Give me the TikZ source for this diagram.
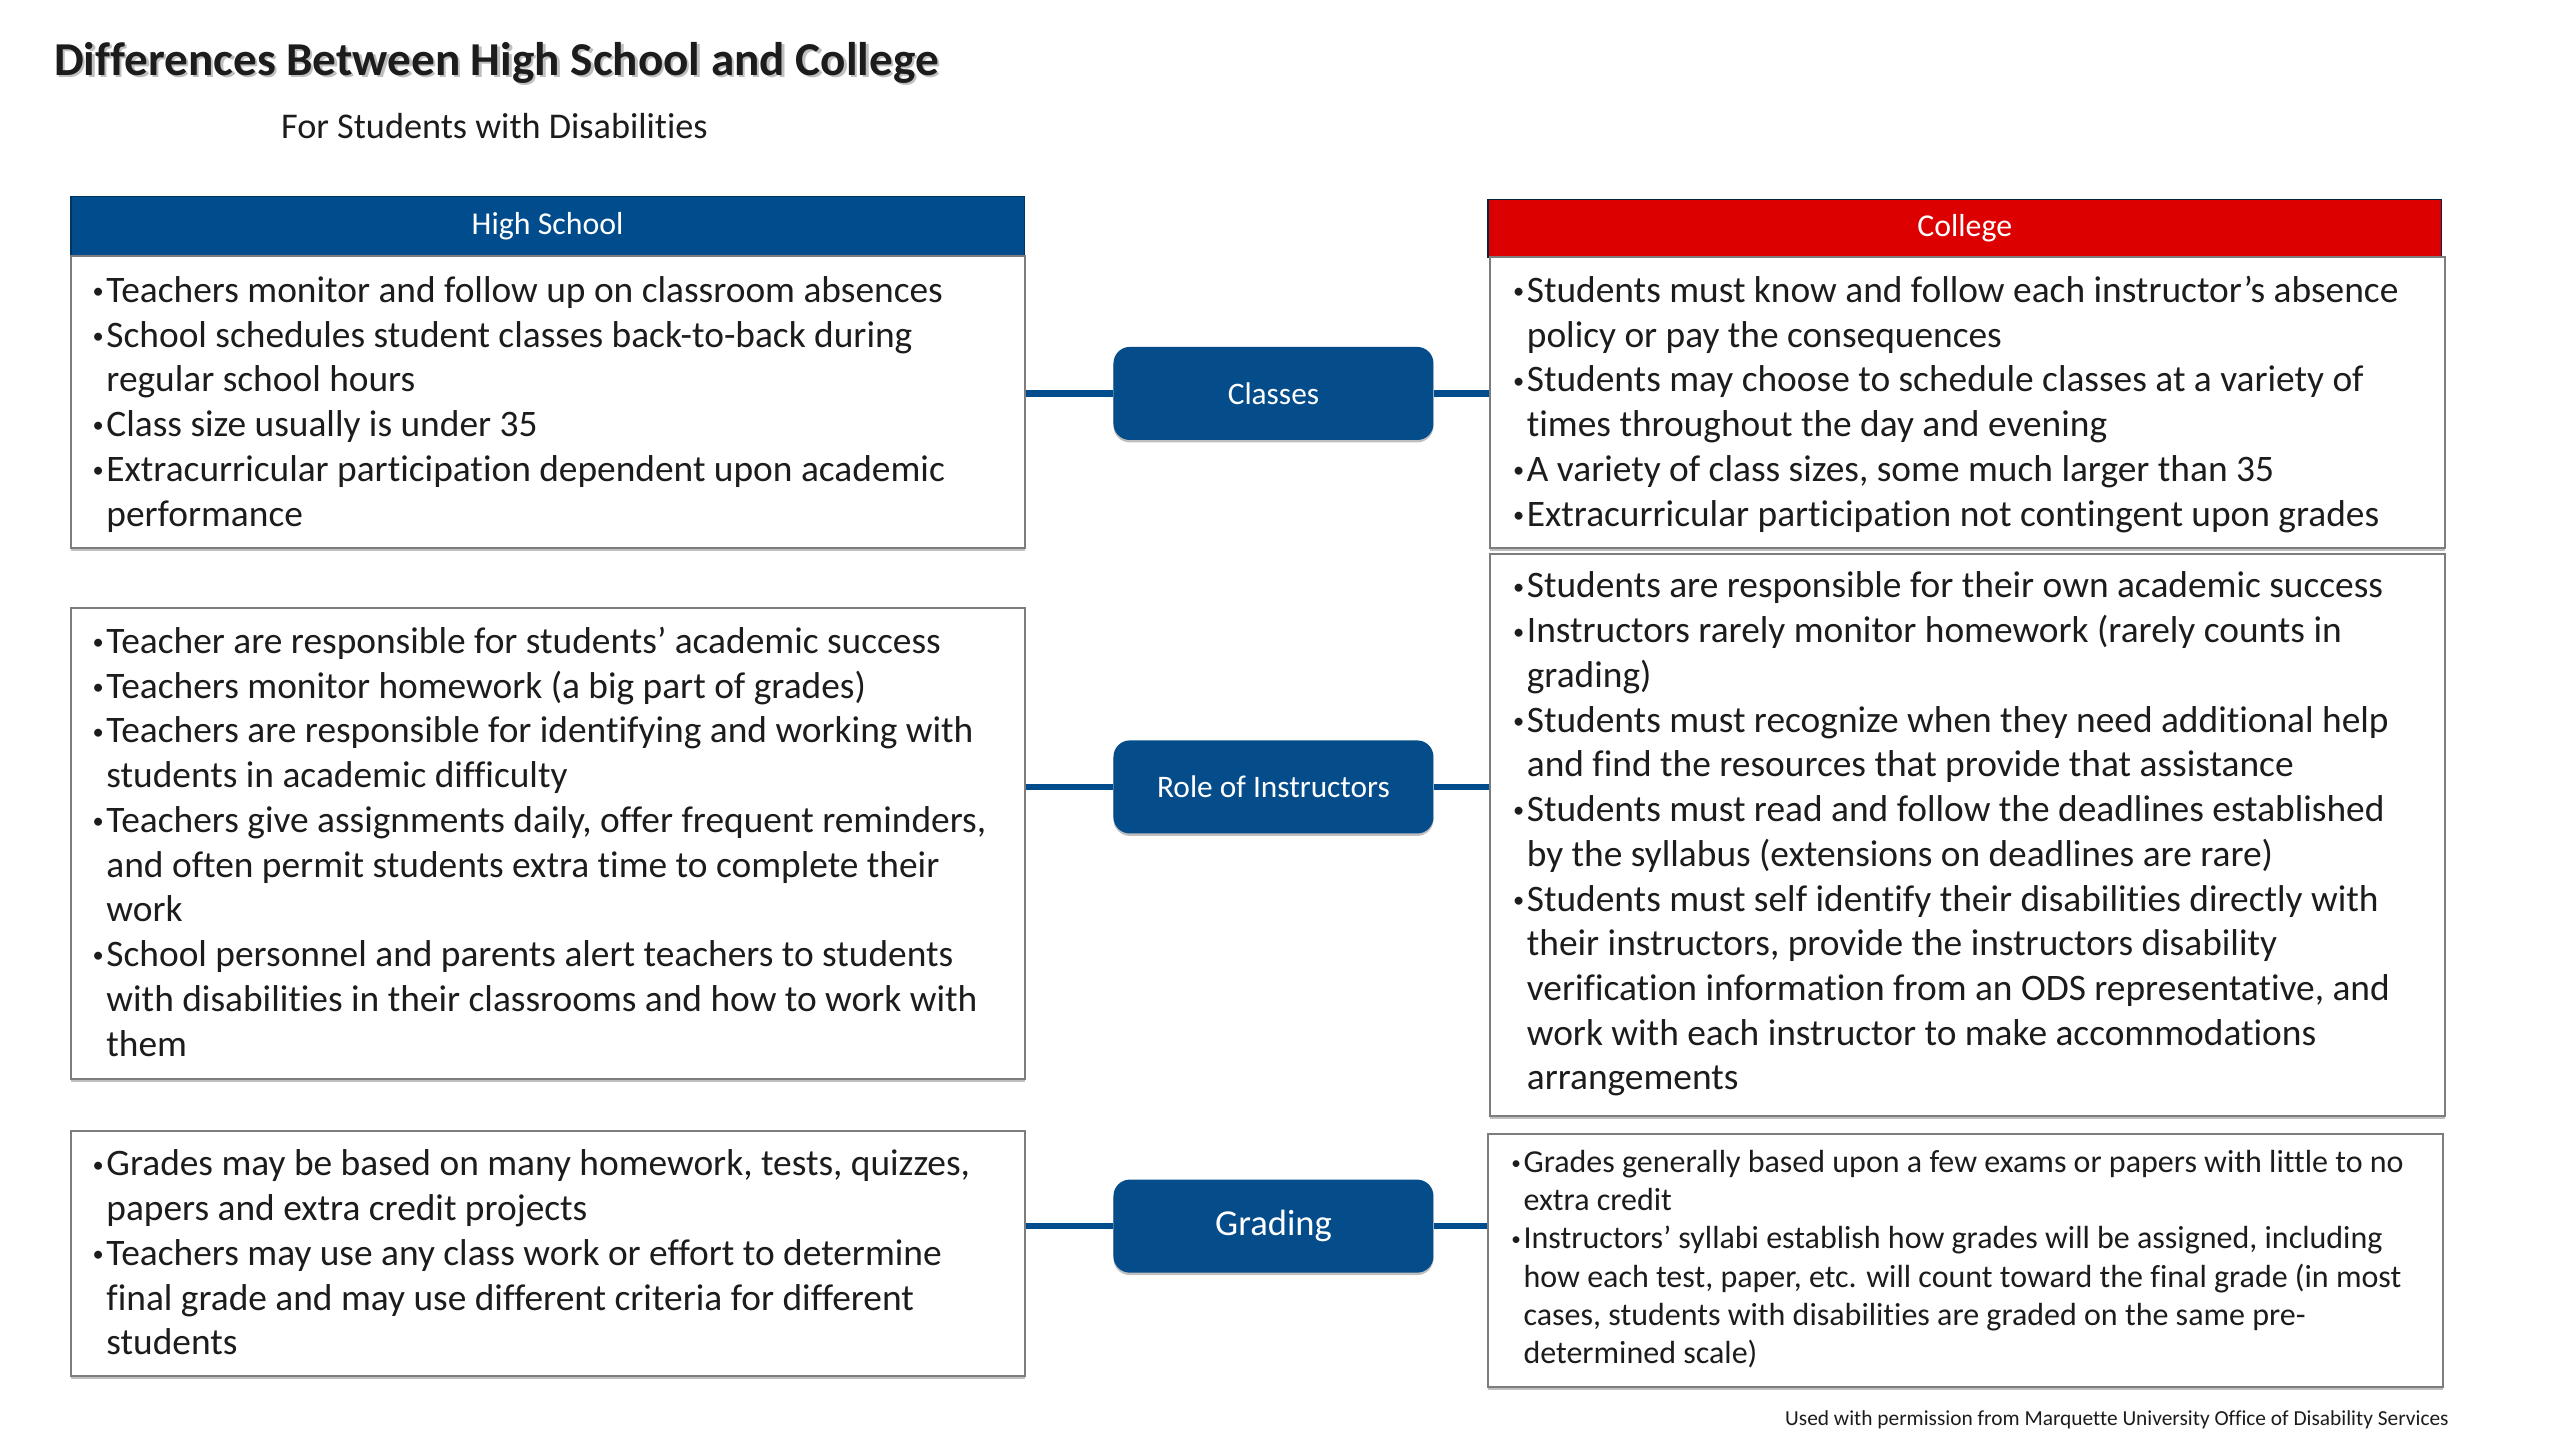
\documentclass[tikz,border=0pt]{standalone}
\usepackage{fontspec}
\setmainfont{Carlito}[Ligatures=NoCommon]
\usetikzlibrary{shadows}
\definecolor{hsblue}{RGB}{0,76,140}
\definecolor{pillblue}{RGB}{4,76,138}
\definecolor{colred}{RGB}{221,0,0}
\definecolor{boxgray}{RGB}{125,125,125}
\definecolor{txt}{RGB}{28,28,28}
\newcommand{\bl}{\makebox[10pt][l]{\hspace{1.5pt}\raisebox{2.2pt}{\scalebox{0.6}{•}}}}
\newcommand{\bls}{\makebox[9pt][l]{\hspace{1.5pt}\raisebox{1.9pt}{\scalebox{0.6}{•}}}}
\newcommand{\ct}{\hspace*{10pt}}
\newcommand{\cts}{\hspace*{9pt}}
\newcommand{\fl}{\vrule height 19pt depth 0pt width 0pt}
\newcommand{\fls}{\vrule height 17pt depth 0pt width 0pt}
\begin{document}
\begin{tikzpicture}[x=1pt,y=-1pt,
  box/.style={draw=boxgray, line width=1.2pt, fill=white, inner sep=0pt, anchor=north west,
    drop shadow={shadow xshift=0pt, shadow yshift=-2pt, opacity=0.35, fill=black!70}},
  btext/.style={anchor=north west, inner sep=0pt, align=left, text=txt,
    font=\fontsize{22.9}{27.4}\selectfont},
  stext/.style={anchor=north west, inner sep=0pt, align=left, text=txt,
    font=\fontsize{19.6}{23.4}\selectfont},
  hdr/.style={anchor=north west, inner sep=0pt, minimum width=584pt, minimum height=36pt,
    text=white, font=\fontsize{19.5}{23}\selectfont},
  pill/.style={fill=pillblue, rounded corners=10pt, minimum width=196pt, minimum height=57pt,
    inner sep=0pt, text=white, font=\fontsize{19.2}{23}\selectfont,
    drop shadow={shadow xshift=0pt, shadow yshift=-1.5pt, opacity=0.25, fill=black}},
  conn/.style={draw=hsblue, line width=3.8pt}
]
\fill[white] (0,0) rectangle (1568,882);
\useasboundingbox (0,0) rectangle (1568,882);

% titles
\node[anchor=base west, inner sep=0pt, text=black!25, font=\bfseries\fontsize{28.9}{34}\selectfont] (titleshadow) at (34.5,47.5) {Differences Between High School and College};
\node[anchor=base west, inner sep=0pt, text=txt, font=\bfseries\fontsize{28.9}{34}\selectfont] (title) at (33,46) {Differences Between High School and College};
\node[anchor=base west, inner sep=0pt, text=txt, font=\fontsize{22.2}{26}\selectfont] (subtitle) at (172,85) {For Students with Disabilities};

% headers
\node[hdr, fill=hsblue, draw=hsblue!70!black, line width=0.8pt] (hshdr) at (43,120) {High School};
\node[hdr, fill=colred, draw=hsblue!50!black, line width=0.8pt, minimum height=35pt] (colhdr) at (911,122) {College};

% boxes
\node[box, minimum width=584pt, minimum height=179pt] (hs1) at (43,156) {};
\node[box, minimum width=584pt, minimum height=288pt] (hs2) at (43,372) {};
\node[box, minimum width=584pt, minimum height=150pt] (hs3) at (43,692) {};
\node[box, minimum width=585pt, minimum height=178pt] (c1) at (912,157) {};
\node[box, minimum width=585pt, minimum height=344pt] (c2) at (912,339) {};
\node[box, minimum width=585pt, minimum height=155pt] (c3) at (911,694) {};

% box texts
\node[btext] (hs1t) at (55,166) {\fl\bl Teachers monitor and follow up on classroom absences\\
\bl School schedules student classes back-to-back during\\
\ct regular school hours\\
\bl Class size usually is under 35\\
\bl Extracurricular participation dependent upon academic\\
\ct performance};

\node[btext] (hs2t) at (55,381) {\fl\bl Teacher are responsible for students’ academic success\\
\bl Teachers monitor homework (a big part of grades)\\
\bl Teachers are responsible for identifying and working with\\
\ct students in academic difficulty\\
\bl Teachers give assignments daily, offer frequent reminders,\\
\ct and often permit students extra time to complete their\\
\ct work\\
\bl School personnel and parents alert teachers to students\\
\ct with disabilities in their classrooms and how to work with\\
\ct them};

\node[btext] (hs3t) at (55,701) {\fl\bl Grades may be based on many homework, tests, quizzes,\\
\ct papers and extra credit projects\\
\bl Teachers may use any class work or effort to determine\\
\ct final grade and may use different criteria for different\\
\ct students};

\node[btext] (c1t) at (925,166) {\fl\bl Students must know and follow each instructor’s absence\\
\ct policy or pay the consequences\\
\bl Students may choose to schedule classes at a variety of\\
\ct times throughout the day and evening\\
\bl A variety of class sizes, some much larger than 35\\
\bl Extracurricular participation not contingent upon grades};

\node[btext] (c2t) at (925,347) {\fl\bl Students are responsible for their own academic success\\
\bl Instructors rarely monitor homework (rarely counts in\\
\ct grading)\\
\bl Students must recognize when they need additional help\\
\ct and find the resources that provide that assistance\\
\bl Students must read and follow the deadlines established\\
\ct by the syllabus (extensions on deadlines are rare)\\
\bl Students must self identify their disabilities directly with\\
\ct their instructors, provide the instructors disability\\
\ct verification information from an ODS representative, and\\
\ct work with each instructor to make accommodations\\
\ct arrangements};

\node[stext] (c3t) at (924,701) {\fls\bls Grades generally based upon a few exams or papers with little to no\\
\cts extra credit\\
\bls Instructors’ syllabi establish how grades will be assigned, including\\
\cts how each test, paper, etc. will count toward the final grade (in most\\
\cts cases, students with disabilities are graded on the same pre-\\
\cts determined scale)};

% pills
\node[pill] (cls) at (780,241) {Classes};
\node[pill] (role) at (780,482) {Role of Instructors};
\node[pill, font=\fontsize{22.4}{26}\selectfont] (grd) at (780,751) {Grading};

% connectors
\draw[conn] (hs1.east |- cls.west) -- (cls.west);
\draw[conn] (cls.east) -- (cls.east -| c1.west);
\draw[conn] (hs2.east |- role.west) -- (role.west);
\draw[conn] (role.east) -- (role.east -| c2.west);
\draw[conn] (hs3.east |- grd.west) -- (grd.west);
\draw[conn] (grd.east) -- (grd.east -| c3.west);

% footer
\node[anchor=base east, inner sep=0pt, text=txt, font=\fontsize{13.1}{15}\selectfont] (footer) at (1500,873) {Used with permission from Marquette University Office of Disability Services};
\end{tikzpicture}
\end{document}
